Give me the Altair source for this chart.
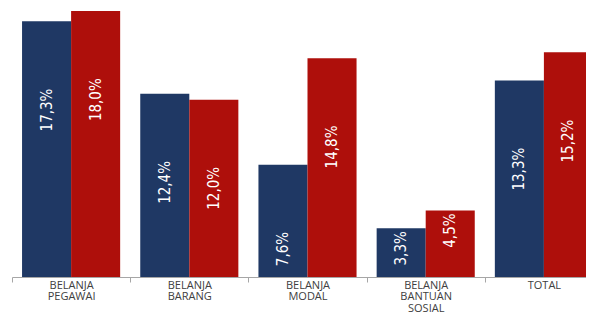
import json
import altair as alt
import pandas as pd

categories = ["BELANJA\nPEGAWAI", "BELANJA\nBARANG", "BELANJA\nMODAL", "BELANJA\nBANTUAN\nSOSIAL", "TOTAL"]
series = ["A", "B"]
values_a = [17.3, 12.4, 7.6, 3.3, 13.3]
values_b = [18.0, 12.0, 14.8, 4.5, 15.2]

rows = []
for i, (c, a, b) in enumerate(zip(categories, values_a, values_b)):
    rows.append({"idx": i, "cat": c, "s": series[0], "si": 0, "v": a})
    rows.append({"idx": i, "cat": c, "s": series[1], "si": 1, "v": b})
df = pd.DataFrame(rows)

W = 574
STEP = 118.2
OUTER = 0.085
BARW = 0.415

label_arr = json.dumps([c.split("\n") for c in categories])
xscale = alt.Scale(domain=[0, W / STEP], nice=False, zero=False)
yscale = alt.Scale(domain=[0, 18.2], nice=False, zero=True)

base = alt.Chart(df).transform_calculate(
    xs=f"datum.idx + {OUTER} + datum.si * {BARW}",
    xe=f"datum.idx + {OUTER} + (datum.si + 1) * {BARW}",
    xm=f"datum.idx + {OUTER} + (datum.si + 0.5) * {BARW}",
    txt="replace(format(datum.v, '.1f'), '.', ',') + '%'",
    ly="datum.v > 6 ? datum.v - 4.55 : datum.v - 0.2",
)

bars = base.mark_bar(clip=True).encode(
    x=alt.X("xs:Q", scale=xscale, title=None,
            axis=alt.Axis(values=[0, 1, 2, 3, 4], labelExpr=f"{label_arr}[datum.value]",
                          labelOffset=STEP / 2, labelFlush=False, labelOverlap=False,
                          labelAngle=0, grid=False,
                          labelFont="Open Sans", labelFontSize=11, labelColor="#404040",
                          labelLineHeight=11.5, labelPadding=-3,
                          domainColor="#a6a6a6", tickColor="#a6a6a6", tickSize=5,
                          domainWidth=1, tickWidth=1)),
    x2="xe:Q",
    y=alt.Y("v:Q", axis=None, scale=yscale),
    y2=alt.datum(0),
    color=alt.Color("s:N", sort=series, legend=None,
                    scale=alt.Scale(domain=series, range=["#1f3864", "#ae0f0b"])),
)

labels = base.mark_text(angle=270, align="right", baseline="middle", color="white",
                        font="DejaVu Sans Condensed, Liberation Sans Narrow, sans-serif",
                        fontSize=15).encode(
    x=alt.X("xm:Q", scale=xscale),
    y=alt.Y("ly:Q", scale=yscale),
    text="txt:N",
)

chart = (bars + labels).properties(
    width=W, height=269,
    autosize=alt.AutoSizeParams(type="none"),
    padding={"left": 4, "top": 0, "right": 0, "bottom": 35},
).configure_view(stroke=None)

chart.save("out.html", embed_options={"renderer": "svg", "actions": False})
